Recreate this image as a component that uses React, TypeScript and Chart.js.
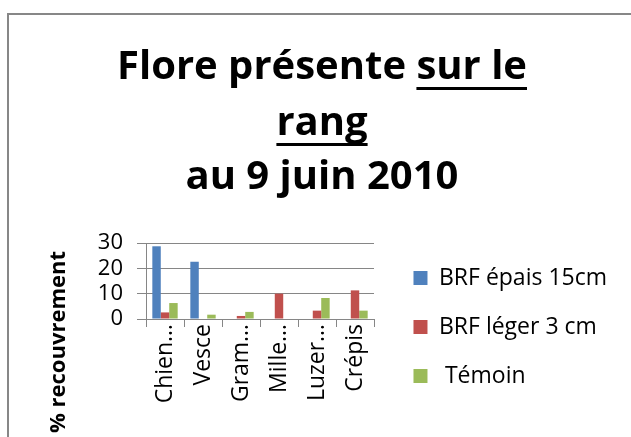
import { useEffect, useRef } from "react";
import { Chart, registerables } from "chart.js";

Chart.register(...registerables);

// ---- data ----
const categories = ["Chien…", "Vesce", "Gram…", "Mille…", "Luzer…", "Crépis"];
const brfEpais = [28.7, 22.6, 0, 0, 0, 0];
const brfLeger = [2.6, 0, 1.2, 10, 3.3, 11.3];
const temoin = [6.3, 1.7, 2.8, 0, 8.3, 3.3];
const seriesLabels = ["BRF épais 15cm", "BRF léger 3 cm", " Témoin"];
const seriesColors = ["#4F81BD", "#C0504D", "#9BBB59"];
const yTicks = [0, 10, 20, 30];
const yAxisTitle = "% recouvrement";
const titleLines: { t: string; u: boolean }[][] = [
  [
    { t: "Flore présente ", u: false },
    { t: "sur le", u: true },
  ],
  [{ t: "rang", u: true }],
  [{ t: "au 9 juin 2010", u: false }],
];

// ---- styling ----
const W = 631;
const H = 437;
const FONT = "'Open Sans', sans-serif";
const GRID = "#868686";
const TITLE_SIZE = 40;
const TITLE_CX = 322;
const TITLE_BASE = [79, 135, 189];
const PLOT_LEFT = 146;
const PLOT_RIGHT = 374;
const PAD_TOP = 217;
const PAD_RIGHT = 14;

const framePlugin = {
  id: "frame",
  beforeDraw(chart: any) {
    const ctx = chart.ctx;
    ctx.save();
    ctx.strokeStyle = "#878787";
    ctx.lineWidth = 2;
    ctx.beginPath();
    ctx.moveTo(8, H);
    ctx.lineTo(8, 14);
    ctx.lineTo(W, 14);
    ctx.stroke();
    ctx.restore();
  },
};

const textPlugin = {
  id: "texts",
  afterDraw(chart: any) {
    const ctx = chart.ctx;
    ctx.save();
    ctx.fillStyle = "#000";
    ctx.font = `bold ${TITLE_SIZE}px ${FONT}`;
    ctx.textAlign = "left";
    ctx.textBaseline = "alphabetic";
    titleLines.forEach((segs, i) => {
      const total = segs.reduce((w, s) => w + ctx.measureText(s.t).width, 0);
      let x = TITLE_CX - total / 2;
      const y = TITLE_BASE[i];
      segs.forEach((s) => {
        const w = ctx.measureText(s.t).width;
        ctx.fillText(s.t, x, y);
        if (s.u) ctx.fillRect(x, y + 8, w, 3);
        x += w;
      });
    });
    // y axis title
    ctx.translate(59, 342);
    ctx.rotate(-Math.PI / 2);
    ctx.font = `bold 22px ${FONT}`;
    ctx.textAlign = "center";
    ctx.textBaseline = "middle";
    ctx.fillText(yAxisTitle, 0, 0);
    ctx.restore();
  },
};

export default function App() {
  const ref = useRef<HTMLCanvasElement>(null);
  useEffect(() => {
    if (!ref.current) return;
    const chart = new Chart(ref.current, {
      type: "bar",
      data: {
        labels: categories,
        datasets: [
          { label: seriesLabels[0], data: brfEpais, backgroundColor: seriesColors[0] },
          { label: seriesLabels[1], data: brfLeger, backgroundColor: seriesColors[1] },
          { label: seriesLabels[2], data: temoin, backgroundColor: seriesColors[2] },
        ],
      },
      options: {
        responsive: false,
        animation: false,
        devicePixelRatio: 1,
        categoryPercentage: 0.667,
        barPercentage: 1,
        layout: { padding: { top: PAD_TOP, right: PAD_RIGHT, bottom: 0, left: 0 } },
        plugins: {
          tooltip: { enabled: false },
          title: { display: false },
          legend: {
            position: "right",
            maxWidth: 400,
            labels: {
              font: { family: FONT, size: 23 },
              color: "#000",
              boxWidth: 14,
              boxHeight: 14,
              padding: 26,
            },
          },
        },
        scales: {
          x: {
            position: "bottom",
            offset: true,
            grid: {
              drawOnChartArea: false,
              drawTicks: true,
              tickLength: 8,
              color: GRID,
              offset: true,
            },
            border: { display: true, color: GRID },
            ticks: {
              font: { family: FONT, size: 23 },
              color: "#000",
              minRotation: 90,
              maxRotation: 90,
              autoSkip: false,
              padding: -3,
            },
            afterFit: (s: any) => {
              s.height = 118;
            },
          },
          y: {
            position: "left",
            min: yTicks[0],
            max: yTicks[yTicks.length - 1],
            ticks: {
              autoSkip: false,
              font: { family: FONT, size: 22 },
              color: "#000",
              padding: 14,
            },
            afterBuildTicks: (s: any) => {
              s.ticks = yTicks.map((v) => ({ value: v }));
            },
            grid: { color: GRID, tickLength: 9, drawTicks: true },
            border: { display: true, color: GRID },
            afterFit: (s: any) => {
              s.width = PLOT_LEFT;
            },
          },
          gapR: {
            axis: "y",
            type: "linear",
            position: "right",
            display: true,
            grid: { display: false },
            border: { display: false },
            ticks: { display: false },
            afterFit: (s: any) => {
              const lg = s.chart.legend;
              const lw = lg ? lg.width : 0;
              s.width = Math.max(0, W - PAD_RIGHT - lw - PLOT_RIGHT);
            },
          },
          gapT: {
            axis: "x",
            type: "linear",
            position: "top",
            display: true,
            grid: { display: false },
            border: { display: false },
            ticks: { display: false },
            afterFit: (s: any) => {
              s.height = 26;
            },
          },
        },
      } as any,
      plugins: [framePlugin, textPlugin],
    });
    return () => chart.destroy();
  }, []);
  return (
    <div style={{ position: "fixed", left: 0, top: 0, width: W, height: H, background: "#fff" }}>
      <canvas ref={ref} width={W} height={H} style={{ width: W, height: H, display: "block" }} />
    </div>
  );
}
